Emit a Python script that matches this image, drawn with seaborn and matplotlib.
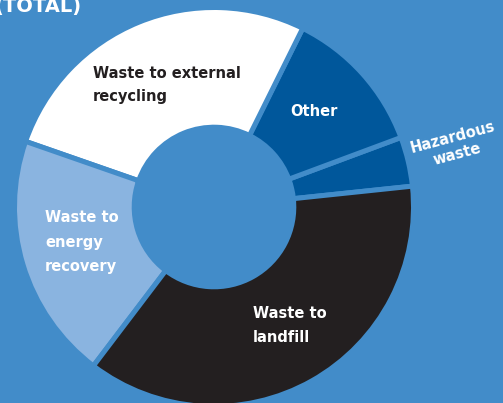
import matplotlib
matplotlib.use("Agg")
import matplotlib.pyplot as plt
import seaborn as sns

# Waste streams, share of total (%)
categories = ["Hazardous waste", "Other", "Waste to external recycling",
              "Waste to energy recovery", "Waste to landfill"]
shares = [4, 12, 27, 20, 37]
labels = ["Hazardous\nwaste", "Other", "Waste to external\nrecycling",
          "Waste to\nenergy\nrecovery", "Waste to\nlandfill"]

sns.set_theme(style="white")
plt.rcParams["font.family"] = ["DejaVu Sans"]

BG = "#428cc9"
palette = sns.color_palette(["#00579b", "#00579b", "#ffffff", "#8ab4e0", "#231f20"])

W, H = 503, 403
fig = plt.figure(figsize=(W / 100, H / 100), dpi=100, facecolor=BG)
ax = fig.add_axes([0, 0, 1, 1])
ax.set_facecolor(BG)

ax.pie(shares, colors=palette, startangle=6, counterclock=True, radius=1,
       wedgeprops=dict(width=0.6, edgecolor=BG, linewidth=3.6))

# pixel geometry of the ring: centre (214, 207) px from top-left, outer radius ~199 px
cx, cy, R = 214, 207, 199.5
xmin = -cx / R
ymax = cy / R
ax.set_aspect("auto")
ax.set_xlim(xmin, xmin + W / R)
ax.set_ylim(ymax - H / R, ymax)
ax.axis("off")


def px(x, y):
    return x / W, 1 - y / H


txt = dict(fontsize=10.5, fontweight="bold", linespacing=1.75)
fig.text(*px(93, 85), labels[2], color="#231f20", ha="left", va="center", **txt)
fig.text(*px(290, 111), labels[1], color="white", ha="left", va="center", **txt)
fig.text(*px(45, 242), labels[3], color="white", ha="left", va="center", **txt)
fig.text(*px(253, 325), labels[4], color="white", ha="left", va="center", **txt)
fig.text(*px(455, 146), labels[0], color="white", ha="center", va="center",
         rotation=15, rotation_mode="anchor", fontsize=10.5, fontweight="bold",
         linespacing=1.2)
fig.text(*px(-6, 12), "(TOTAL)", color="white", ha="left", va="baseline",
         fontsize=14, fontweight="bold")

fig.savefig("out.png", dpi=100, facecolor=BG)
